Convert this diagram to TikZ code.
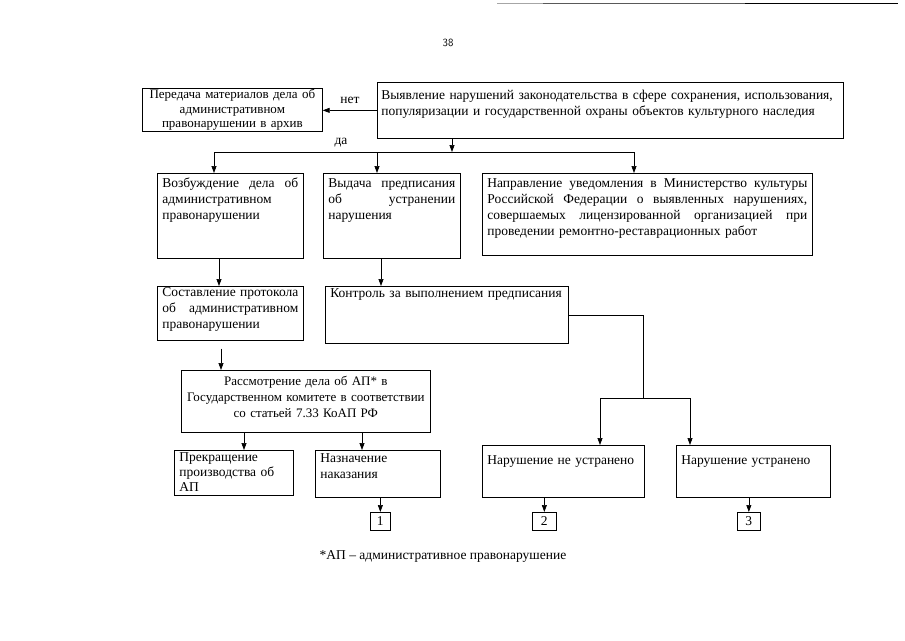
\documentclass[tikz,border=0pt]{standalone}
\usepackage{fontspec}
\setmainfont{Liberation Serif}
\usepackage{tikz}
\usetikzlibrary{arrows.meta, positioning}

\begin{document}
\begin{tikzpicture}[
    x=1pt, y=-1pt,
    tbox/.style={draw, line width=0.7pt, anchor=north west, inner xsep=5pt, inner ysep=3pt, align=left, font=\fontsize{13.5}{16}\selectfont},
    cbox/.style={tbox, align=center},
    numbox/.style={draw, line width=0.7pt, anchor=north west, inner sep=0pt, font=\fontsize{13.5}{16}\selectfont},
    arr/.style={-{Triangle[length=7pt, width=5pt]}, line width=0.7pt},
    lnk/.style={line width=0.7pt},
]
\useasboundingbox (0,0) rectangle (905,640);

\draw[line width=1pt, black!35] (497,3) -- (543,3);
\draw[line width=1pt, black!65] (543,3) -- (745,3);
\draw[line width=1pt, black] (745,3) -- (898,3);
\node[font=\sffamily\fontsize{11}{12}\selectfont] (page) at (448,43) {38};

\node[tbox, inner xsep=4pt, text width=458pt, text height=14pt, text depth=36pt] (detect) at (377,82)
    {Выявление нарушений законодательства в сфере сохранения, использования,\\популяризации и государственной охраны объектов культурного наследия};
\node[draw, line width=0.7pt, anchor=north west, align=center, text width=174pt, minimum height=43pt, inner xsep=3pt, inner ysep=0pt,
    font=\fontsize{13}{14.5}\selectfont] (archive) at (142,88)
    {Передача материалов дела об\\административном\\правонарушении в архив};

\node[tbox, text width=136pt, text height=11pt, text depth=68pt] (initiate) at (157,173)
    {Возбуждение\hfill дела\hfill об\\административном\\правонарушении};
\node[tbox, text width=127pt, text height=11pt, text depth=68pt] (order) at (323,173)
    {Выдача\hfill предписания\\об\hfill устранении\\нарушения};
\node[tbox, text width=320pt, text height=11pt, text depth=65pt] (notify) at (482,173)
    {Направление\hfill уведомления\hfill в\hfill Министерство\hfill культуры\\Российской\hfill Федерации\hfill о\hfill выявленных\hfill нарушениях,\\совершаемых\hfill лицензированной\hfill организацией\hfill при\\проведении ремонтно-реставрационных работ};

\node[tbox, text width=136pt, text height=7pt, text depth=41pt] (protocol) at (157,286)
    {Составление\hfill протокола\\об\hfill административном\\правонарушении};
\node[tbox, text width=233pt, text height=8pt, text depth=43pt] (control) at (325,286)
    {Контроль за выполнением предписания};

\node[cbox, inner xsep=3pt, text width=243pt, text height=12pt, text depth=44pt, font=\fontsize{13}{16}\selectfont] (review) at (181,370)
    {Рассмотрение дела об АП* в\\Государственном комитете в соответствии\\со статьей 7.33 КоАП РФ};

\node[tbox, text width=109pt, text height=8pt, text depth=31pt, font=\fontsize{13.5}{15}\selectfont] (stop) at (174,450)
    {Прекращение\\производства об\\АП};
\node[tbox, text width=115pt, text height=9pt, text depth=32pt] (penalty) at (315,450)
    {Назначение\\наказания};
\node[tbox, text width=152pt, text height=16pt, text depth=30pt] (notfixed) at (482,445)
    {Нарушение не устранено};
\node[tbox, text width=144pt, text height=16pt, text depth=30pt] (fixed) at (676,445)
    {Нарушение устранено};

\node[numbox, minimum width=20pt, minimum height=18pt] (one) at (370,512) {1};
\node[numbox, minimum width=24pt, minimum height=18pt] (two) at (532,512) {2};
\node[numbox, minimum width=23pt, minimum height=18pt] (three) at (737,512) {3};

\node[font=\fontsize{13.5}{16}\selectfont] (note) at (443,556) {*АП -- административное правонарушение};

\draw[arr] (detect.west) -- node[above=3pt, font=\fontsize{13.5}{16}\selectfont] (no) {нет} (detect.west -| archive.east);

\coordinate (fork) at (452,152);
\coordinate (forkL) at (214,152);
\coordinate (forkM) at (377,152);
\coordinate (forkR) at (634,152);
\draw[arr] (fork |- detect.south) -- (fork);
\node[font=\fontsize{13.5}{16}\selectfont] (yes) at (341,143) {да};
\draw[lnk] (forkL) -- (forkR);
\draw[arr] (forkL) -- (forkL |- initiate.north);
\draw[arr] (forkM) -- (forkM |- order.north);
\draw[arr] (forkR) -- (forkR |- notify.north);

\draw[arr] ([xshift=62pt]initiate.south west) -- ([xshift=62pt]initiate.south west |- protocol.north);
\draw[arr] ([xshift=58pt]order.south west) -- ([xshift=58pt]order.south west |- control.north);
\draw[arr] ([xshift=64pt, yshift=-8pt]protocol.south west) -- ([xshift=64pt]protocol.south west |- review.north);

\coordinate (turn) at (643,398);
\coordinate (splitL) at (600,398);
\coordinate (splitR) at (690,398);
\draw[lnk] (control.east) -| (turn);
\draw[lnk] (splitL) -- (splitR);
\draw[arr] (splitL) -- (splitL |- notfixed.north);
\draw[arr] (splitR) -- (splitR |- fixed.north);

\draw[arr] ([xshift=70pt]stop.north west |- review.south) -- ([xshift=70pt]stop.north west);
\draw[arr] ([xshift=47pt]penalty.north west |- review.south) -- ([xshift=47pt]penalty.north west);

\draw[arr] (one.north |- penalty.south) -- (one.north);
\draw[arr] (two.north |- notfixed.south) -- (two.north);
\draw[arr] (three.north |- fixed.south) -- (three.north);

\end{tikzpicture}
\end{document}
